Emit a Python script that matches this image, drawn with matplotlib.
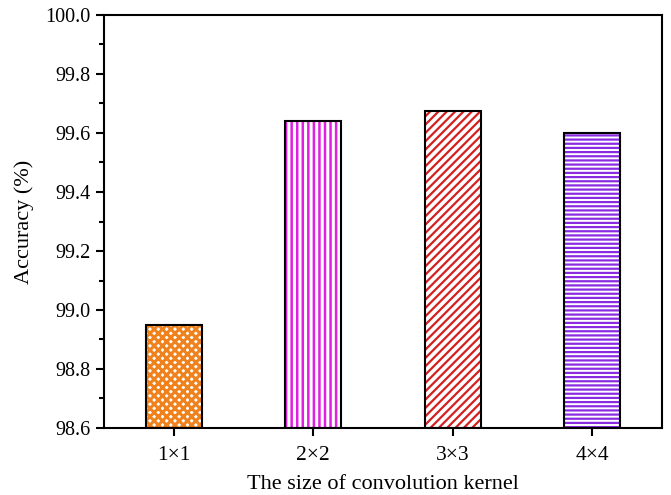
import numpy as np
import matplotlib
matplotlib.use('Agg')
import matplotlib.pyplot as plt
from matplotlib.ticker import MultipleLocator, FormatStrFormatter

# Data
kernels = ['1\u00d71', '2\u00d72', '3\u00d73', '4\u00d74']
accuracy = [98.95, 99.64, 99.675, 99.60]
colors = ['#F0821E', '#E020E0', '#D42020', '#8A2BE2']
hatches = ['xxxx', '|||', '////', '----']
hatch_lw = [2.2, 1.8, 1.6, 1.6]

plt.rcParams['font.family'] = ['Liberation Serif', 'DejaVu Serif']

fig = plt.figure(figsize=(6.71, 4.95), dpi=100)
ax = fig.add_axes([104 / 671, 1 - 428 / 495, 558 / 671, 413 / 495])

x = np.arange(1, len(kernels) + 1)
base = 98.6
for xi, val, c, h, lw in zip(x, accuracy, colors, hatches, hatch_lw):
    # hatch layer in bar colour, then black outline on top
    with plt.rc_context({'hatch.linewidth': lw}):
        ax.bar(xi, val - base, bottom=base, width=0.4, facecolor='white',
               edgecolor=c, hatch=h, linewidth=0, zorder=2)
    ax.bar(xi, val - base, bottom=base, width=0.4, fill=False,
           edgecolor='black', linewidth=1.5, zorder=3)

ax.set_xlim(0.5, 4.5)
ax.set_ylim(98.6, 100.0)
ax.set_xticks(x)
ax.set_xticklabels(kernels)
ax.yaxis.set_major_locator(MultipleLocator(0.2))
ax.yaxis.set_minor_locator(MultipleLocator(0.1))
ax.yaxis.set_major_formatter(FormatStrFormatter('%.1f'))

ax.tick_params(axis='both', which='major', direction='out', length=6,
               width=1.5, labelsize=14.5)
ax.tick_params(axis='x', which='major', pad=7, labelsize=15.5)
ax.tick_params(axis='y', which='minor', direction='out', length=3.5, width=1.5)
for s in ax.spines.values():
    s.set_linewidth(1.5)

ax.set_xlabel('The size of convolution kernel', fontsize=16, labelpad=7)
ax.set_ylabel('Accuracy (%)', fontsize=16, labelpad=8)

fig.savefig('out.png', dpi=100)
